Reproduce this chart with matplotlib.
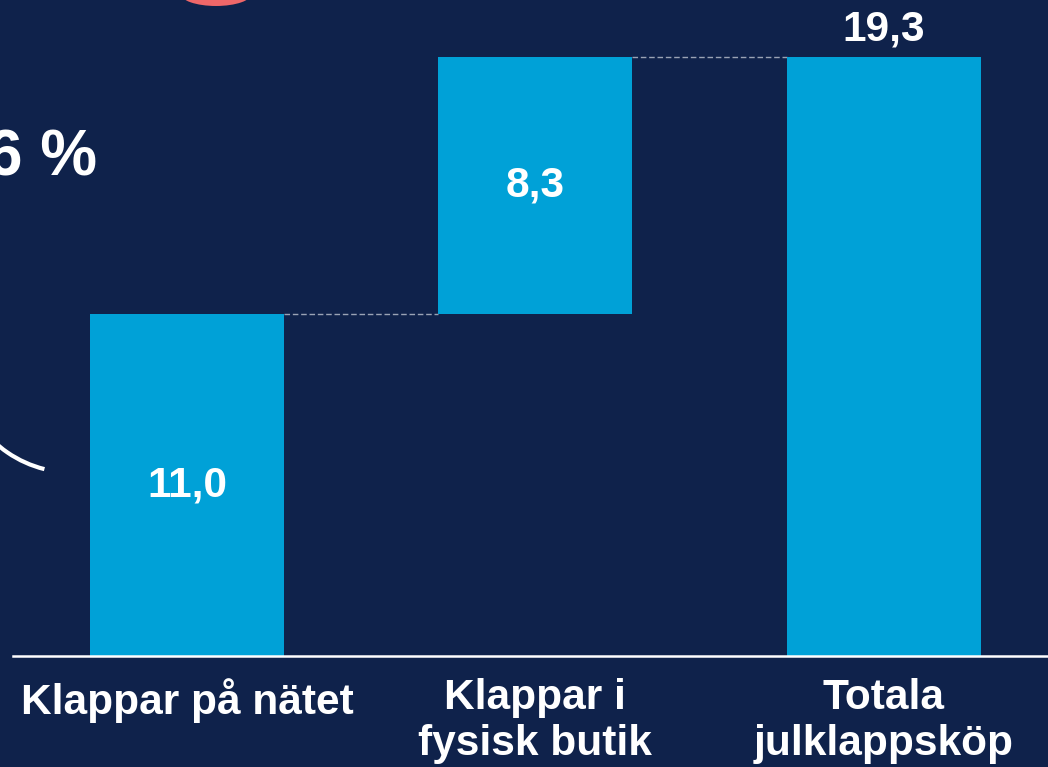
import numpy as np
import matplotlib
matplotlib.use("Agg")
import matplotlib.pyplot as plt
from matplotlib.patches import Arc, Ellipse

# Data
categories = ["Klappar på nätet", "Klappar i\nfysisk butik", "Totala\njulklappsköp"]
steps = [11.0, 8.3]          # the two parts
total = 19.3                 # the total bar
value_labels = ["11,0", "8,3", "19,3"]

bg = "#0F224B"
bar_color = "#00A1D7"

plt.rcParams["font.family"] = ["Liberation Sans", "DejaVu Sans"]

fig = plt.figure(figsize=(10.48, 7.67), dpi=100, facecolor=bg)
ax = fig.add_axes([13 / 1048, 111 / 767, 1 - 13 / 1048, 1 - 111 / 767])
ax.set_facecolor(bg)

x = np.arange(len(categories))
heights = steps + [total]
bottoms = [0, steps[0], 0]
width = 0.557

ax.bar(x, heights, bottom=bottoms, width=width, color=bar_color, zorder=2)

# dashed connectors between bars
tops = [steps[0], steps[0] + steps[1]]
for i, t in enumerate(tops):
    ax.plot([x[i] + width / 2, x[i + 1] - width / 2], [t, t],
            color="#9AA3B5", lw=1, ls=(0, (4, 2)), zorder=1)

# value labels
fs = 30.5
ax.text(x[0], steps[0] / 2, value_labels[0], ha="center", va="center",
        color="white", fontsize=fs, fontweight="bold")
ax.text(x[1], steps[0] + steps[1] / 2, value_labels[1], ha="center", va="center",
        color="white", fontsize=fs, fontweight="bold")
ax.annotate(value_labels[2], (x[2], total), xytext=(0, 20), textcoords="offset points",
            ha="center", va="center", color="white", fontsize=fs, fontweight="bold")

ax.set_xlim(-0.5, 2.472)
ax.set_ylim(0, 21.13)
ax.set_xticks(x)
ax.set_xticklabels(categories, fontsize=fs, fontweight="bold", color="white",
                   linespacing=1.2)
ax.tick_params(axis="x", length=0, pad=16)
ax.set_yticks([])
for s in ["top", "right", "left"]:
    ax.spines[s].set_visible(False)
ax.spines["bottom"].set_color("white")
ax.spines["bottom"].set_linewidth(1.8)

# bits of neighbouring slide graphics cut off at the edge
ov = fig.add_axes([0, 0, 1, 1], facecolor="none")
ov.set_xlim(0, 1048)
ov.set_ylim(0, 767)
ov.axis("off")
ov.add_patch(Ellipse((216, 767 + 6.7), 72, 25.4, color="#EF6769", lw=0))
ov.add_patch(Arc((72, 408.5), 228, 228, theta1=215, theta2=256, color="white", lw=3))
ov.text(97, 592, "6 %", ha="right", va="baseline", color="white",
        fontsize=46, fontweight="bold")

fig.savefig("out.png", dpi=100, facecolor=bg)
